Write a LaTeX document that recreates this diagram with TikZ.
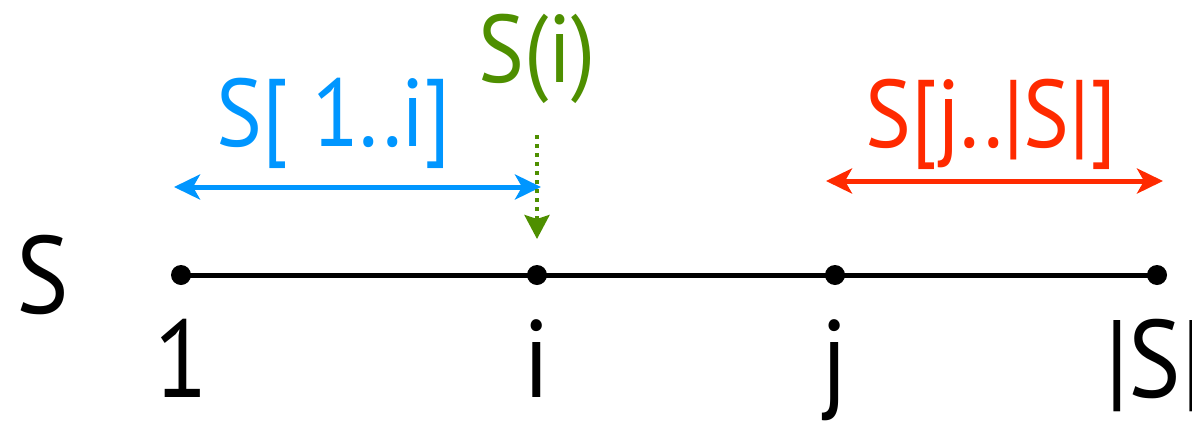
\documentclass[tikz,border=0pt]{standalone}
\usepackage{fontspec}
\setmainfont{PT Sans}[FakeStretch=0.9]
\usetikzlibrary{arrows.meta}
\definecolor{segblue}{RGB}{0,150,255}
\definecolor{segred}{RGB}{255,42,0}
\definecolor{seggreen}{RGB}{78,143,0}
\tikzset{
  dot/.style={circle, fill=black, inner sep=0pt, minimum size=20pt},
  axis/.style={line width=5pt, black},
  lbl/.style={anchor=base, inner sep=0pt, font=\fontsize{110}{110}\selectfont},
  toplbl/.style={anchor=base, inner sep=0pt, font=\fontsize{96}{96}\selectfont},
  spanarrow/.style={line width=5pt, {Stealth[length=26pt, width=25pt, inset=7pt]}-{Stealth[length=26pt, width=25pt, inset=7pt]}},
  pointer/.style={seggreen, line width=4pt, dash pattern=on 4pt off 5pt, -{Stealth[length=24pt, width=25pt, inset=4pt]}}
}
\begin{document}
\begin{tikzpicture}[x=1pt, y=-1pt]
\useasboundingbox (0,0) rectangle (1192,421);
% the string S as a segment with four marked positions
\node[dot] (p1) at (181,275) {};
\node[dot] (pi) at (537,275) {};
\node[dot] (pj) at (835,275) {};
\node[dot] (pn) at (1157,275) {};
\draw[axis] (p1.center) -- (pi.center) -- (pj.center) -- (pn.center);
\node[lbl] (sname) at (43,313) {S};
\node[lbl] (l1) at (181,397) {1};
\node[lbl] (li) at (537,397) {i};
\node[lbl] (lj) at (835,397) {j};
\node[lbl, anchor=base west] (ln) at (1105,397) {|S|};
% prefix S[1..i]
\coordinate (bl) at (174,187);
\coordinate (br) at (541,187);
\draw[spanarrow, segblue] (bl) -- (br);
\node[toplbl, text=segblue] (pre) at (334,146) {S[ 1..i]};
% suffix S[j..|S|]
\coordinate (rl) at (826,181);
\coordinate (rr) at (1163,181);
\draw[spanarrow, segred] (rl) -- (rr);
\node[toplbl, text=segred] (suf) at (991,147) {S[j..|S|]};
% character S(i)
\node[toplbl, text=seggreen] (chr) at (537,82) {S(i)};
\coordinate (gs) at (537,135);
\coordinate (ge) at (537,239);
\draw[pointer] (gs) -- (ge);
\end{tikzpicture}
\end{document}
